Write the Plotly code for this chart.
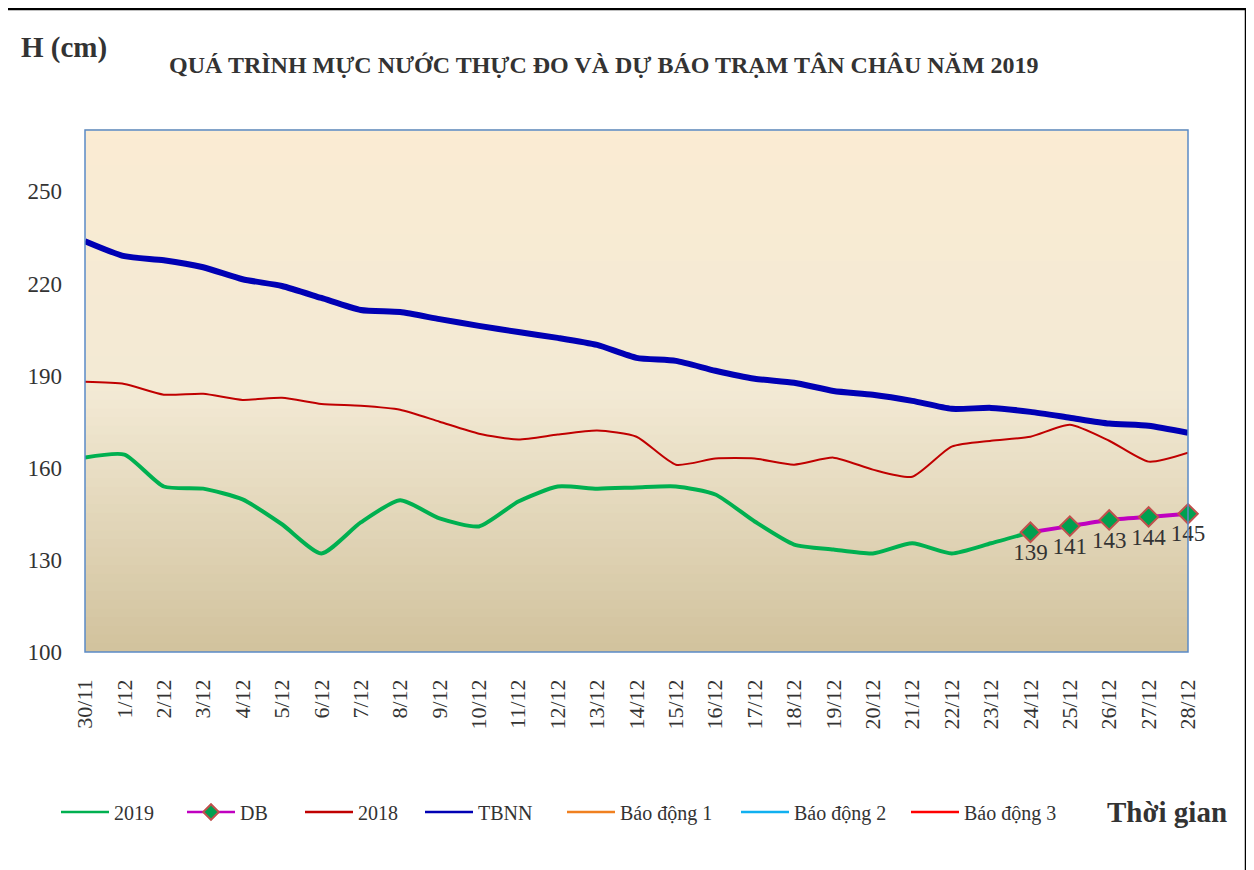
import plotly.graph_objects as go

dates = ["30/11"] + [f"{d}/12" for d in range(1, 29)]

tbnn = [233.8, 228.9, 227.6, 225.3, 221.4, 219.2, 215.3, 211.4, 210.7, 208.4,
        206.2, 204.2, 202.3, 200.0, 195.8, 194.8, 191.6, 189.0, 187.7, 185.0,
        183.8, 181.8, 179.2, 179.5, 178.2, 176.3, 174.4, 173.7, 171.4]
h2018 = [188.0, 187.3, 183.8, 184.1, 182.1, 182.8, 180.8, 180.2, 178.9, 175.0,
         171.1, 169.2, 170.8, 172.1, 170.1, 161.0, 163.0, 163.0, 161.0, 163.3,
         159.4, 157.1, 166.9, 168.8, 170.1, 174.0, 168.8, 162.0, 164.9]
h2019 = [163.3, 164.3, 153.9, 153.2, 149.7, 141.6, 132.1, 142.2, 149.4, 143.5,
         140.9, 149.0, 153.9, 153.2, 153.6, 153.9, 151.3, 142.5, 135.0, 133.4,
         132.1, 135.4, 132.1, 135.4, 139.0]
db_dates = ["24/12", "25/12", "26/12", "27/12", "28/12"]
db_vals = [139, 141, 143, 144, 145]
bd1 = [350] * len(dates)
bd2 = [400] * len(dates)
bd3 = [450] * len(dates)

FONT = "Liberation Serif"
TXT = "#333333"
OFF = 8  # page body margin
PW, PH = 1103, 522  # plot area size in px
L, T = 85 - OFF, 130 - OFF

def px_x(x):
    return (x - OFF - L) / PW

def px_y(y):
    return (T + PH - (y - OFF)) / PH

fig = go.Figure()

# gradient plot background via thin bands
top = (251, 236, 211)
mid = (243, 234, 213)
bot = (210, 195, 158)
n = 60
shapes = []
for i in range(n):
    f = i / (n - 1)
    if f < 0.5:
        g = f / 0.5
        c = tuple(int(bot[k] + (mid[k] - bot[k]) * g) for k in range(3))
    else:
        g = (f - 0.5) / 0.5
        c = tuple(int(mid[k] + (top[k] - mid[k]) * g) for k in range(3))
    shapes.append(dict(type="rect", xref="x domain", yref="y domain",
                       x0=0, x1=1, y0=i / n, y1=(i + 1) / n + 0.002,
                       fillcolor=f"rgb{c}", line=dict(width=0), layer="below"))
shapes.append(dict(type="rect", xref="x domain", yref="y domain", x0=0, x1=1, y0=0, y1=1,
                   line=dict(color="#5b8ac6", width=1.5), layer="above"))
shapes.append(dict(type="rect", xref="paper", yref="paper",
                   x0=px_x(5), x1=px_x(1246), y0=px_y(900), y1=px_y(9),
                   line=dict(color="black", width=2.5), layer="above"))

LINE = dict(shape="spline", smoothing=0.6)
fig.add_trace(go.Scatter(x=dates[:len(h2019)], y=h2019, name="2019", mode="lines",
                         showlegend=False,
                         line=dict(color="#00b050", width=4, **LINE)))
fig.add_trace(go.Scatter(x=db_dates, y=db_vals, name="DB", mode="lines+markers+text",
                         showlegend=False,
                         text=[str(v) for v in db_vals], textposition="bottom center",
                         textfont=dict(family=FONT, size=23, color=TXT),
                         line=dict(color="#c000c0", width=4, **LINE),
                         marker=dict(symbol="diamond", size=15, color="#00a050",
                                     line=dict(color="#c0504d", width=2)),
                         cliponaxis=False))
fig.add_trace(go.Scatter(x=dates, y=h2018, name="2018", mode="lines", showlegend=False,
                         line=dict(color="#c00000", width=2, **LINE)))
fig.add_trace(go.Scatter(x=dates, y=tbnn, name="TBNN", mode="lines", showlegend=False,
                         line=dict(color="#0000b4", width=6, **LINE)))
fig.add_trace(go.Scatter(x=dates, y=bd1, name="Báo động 1", mode="lines", showlegend=False,
                         line=dict(color="#f08020", width=2)))
fig.add_trace(go.Scatter(x=dates, y=bd2, name="Báo động 2", mode="lines", showlegend=False,
                         line=dict(color="#10b0f0", width=2)))
fig.add_trace(go.Scatter(x=dates, y=bd3, name="Báo động 3", mode="lines", showlegend=False,
                         line=dict(color="#ff0000", width=2)))

# legend entries (each in its own legend to place like the original)
leg_items = [("2019", "#00b050", False, 62), ("DB", "#c000c0", True, 188),
             ("2018", "#c00000", False, 306), ("TBNN", "#0000b4", False, 426),
             ("Báo động 1", "#f08020", False, 568), ("Báo động 2", "#10b0f0", False, 742),
             ("Báo động 3", "#ff0000", False, 912)]
legend_layout = {}
for i, (nm, col, mk, xpx) in enumerate(leg_items):
    lname = "legend" if i == 0 else f"legend{i + 1}"
    fig.add_trace(go.Scatter(x=[None], y=[None], name=nm, legend=lname,
                             mode="lines+markers" if mk else "lines",
                             line=dict(color=col, width=2.5),
                             marker=dict(symbol="diamond", size=12, color="#00a050",
                                         line=dict(color="#c0504d", width=2))))
    legend_layout[lname] = dict(x=px_x(xpx - 6), y=px_y(812), xanchor="left", yanchor="middle",
                                font=dict(family=FONT, size=20, color=TXT),
                                bgcolor="rgba(0,0,0,0)", itemwidth=48, borderwidth=0)

fig.update_layout(
    width=1254, height=870,
    margin=dict(l=L, r=1254 - L - PW, t=T, b=870 - T - PH, autoexpand=False),
    paper_bgcolor="white", plot_bgcolor="rgba(0,0,0,0)",
    font=dict(family=FONT, size=18, color=TXT),
    shapes=shapes,
    showlegend=True,
    annotations=[
        dict(text="<b>QUÁ TRÌNH MỰC NƯỚC THỰC ĐO VÀ DỰ BÁO TRẠM TÂN CHÂU NĂM 2019</b>",
             xref="paper", yref="paper", x=px_x(604), y=px_y(65), yanchor="middle",
             xanchor="center", showarrow=False,
             font=dict(family=FONT, size=24, color=TXT)),
        dict(text="<b>H (cm)</b>", xref="paper", yref="paper",
             x=px_x(19), y=px_y(47), xanchor="left", yanchor="middle", showarrow=False,
             font=dict(family=FONT, size=29, color=TXT)),
        dict(text="<b>Thời gian</b>", xref="paper", yref="paper",
             x=px_x(1229), y=px_y(812), xanchor="right", yanchor="middle", showarrow=False,
             font=dict(family=FONT, size=29, color=TXT)),
    ],
    **legend_layout,
)
fig.update_xaxes(type="category", range=[0, 28], showgrid=False, zeroline=False,
                 tickangle=-90, tickfont=dict(family=FONT, size=22, color=TXT),
                 ticks="", showline=False, ticklabelstandoff=22)
fig.update_yaxes(range=[100, 270], tickvals=[100, 130, 160, 190, 220, 250],
                 showgrid=False, zeroline=False, ticks="", showline=False,
                 tickfont=dict(family=FONT, size=23, color=TXT), ticklabelstandoff=22)

fig.write_html("out.html")
